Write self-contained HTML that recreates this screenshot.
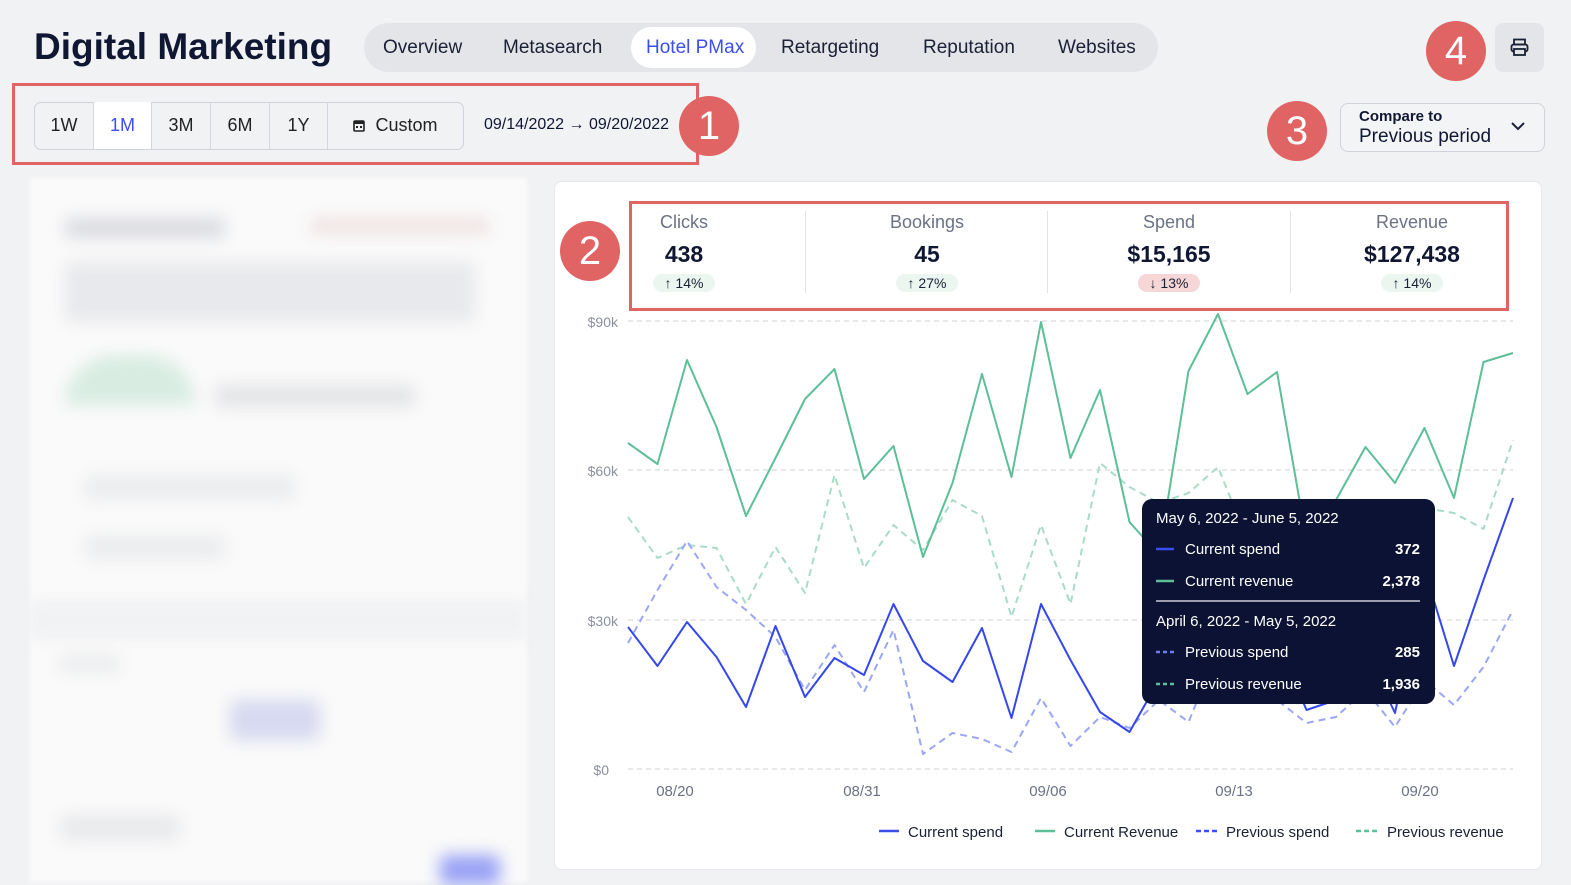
<!DOCTYPE html>
<html><head><meta charset="utf-8"><style>
*{box-sizing:border-box;margin:0;padding:0}
body{width:1571px;height:882px;background:#f1f2f4;font-family:"Liberation Sans",sans-serif;position:relative;overflow:hidden;color:#0f1733}
.abs{position:absolute}
.badge{position:absolute;width:60px;height:60px;border-radius:50%;background:#e06464;color:#fff;font-size:40px;text-align:center;line-height:60px}
.tab{position:absolute;top:33px;font-size:19px;color:#1a2035}
.seg{position:absolute;top:102px;height:47px;border-right:1px solid #d4d7dd;font-size:18px;text-align:center;line-height:47px;color:#222}
.kpi{position:absolute;top:212px;text-align:center}
.kpi .l{font-size:18px;color:#6b7286}
.kpi .v{font-size:23px;font-weight:bold;margin-top:8px;color:#0f1733}
.kpi .c{display:inline-block;margin-top:6px;font-size:14px;padding:1px 12px;border-radius:9px;background:#ebf6f1;color:#1a2035}
.blur{position:absolute;background:#d9dbe0;filter:blur(8px);border-radius:6px}
</style></head><body>
<div class="abs" style="left:34px;top:26px;font-size:37px;font-weight:bold;color:#0f1733">Digital Marketing</div>
<div class="abs" style="left:364px;top:23px;width:794px;height:49px;background:#e4e5e9;border-radius:25px"></div>
<div class="abs" style="left:631px;top:27px;width:125px;height:41px;background:#fff;border-radius:21px"></div>
<div class="tab" style="left:383px;top:37px">Overview</div>
<div class="tab" style="left:503px;top:37px">Metasearch</div>
<div class="tab" style="left:646px;top:37px;color:#3b4ef0">Hotel PMax</div>
<div class="tab" style="left:781px;top:37px">Retargeting</div>
<div class="tab" style="left:923px;top:37px">Reputation</div>
<div class="tab" style="left:1058px;top:37px">Websites</div>

<div class="abs" style="left:12px;top:83px;width:687px;height:82px;border:3px solid #e06464"></div>
<div class="abs" style="left:34px;top:102px;width:430px;height:48px;border:1px solid #cfd2d8;border-radius:7px;background:#f1f2f4"></div>
<div class="seg" style="left:35px;width:59px">1W</div>
<div class="seg" style="left:94px;width:58px;background:#fff;color:#3b4ef0">1M</div>
<div class="seg" style="left:152px;width:59px">3M</div>
<div class="seg" style="left:211px;width:59px">6M</div>
<div class="seg" style="left:270px;width:58px">1Y</div>
<div class="seg" style="left:328px;width:135px;border:none"><svg width="12" height="13" style="vertical-align:-1px;margin-right:10px"><rect x="1" y="2" width="10" height="10" rx="1" fill="none" stroke="#222" stroke-width="1.6"/><rect x="1" y="2" width="10" height="3" fill="#222"/><rect x="3" y="7" width="2" height="2" fill="#222"/><rect x="7" y="7" width="2" height="2" fill="#222"/></svg>Custom</div>
<div class="abs" style="left:484px;top:116px;font-size:16px">09/14/2022 → 09/20/2022</div>
<div class="badge" style="left:679px;top:96px">1</div>

<div class="badge" style="left:1426px;top:21px">4</div>
<div class="abs" style="left:1495px;top:23px;width:49px;height:49px;background:#e4e5e9;border-radius:8px"></div>
<svg class="abs" style="left:1510px;top:38px" width="19" height="19"><rect x="4" y="1.5" width="11" height="5" fill="none" stroke="#1a2035" stroke-width="1.8"/><rect x="1.5" y="6.5" width="16" height="7" rx="2" fill="none" stroke="#1a2035" stroke-width="1.8"/><rect x="4" y="11" width="11" height="6" fill="#e4e5e9" stroke="#1a2035" stroke-width="1.8"/></svg>
<div class="badge" style="left:1267px;top:101px">3</div>
<div class="abs" style="left:1340px;top:103px;width:205px;height:49px;border:1px solid #cfd2d8;border-radius:8px;background:#f3f4f6"></div>
<div class="abs" style="left:1359px;top:108px;font-size:15px;font-weight:bold">Compare to</div>
<div class="abs" style="left:1359px;top:126px;font-size:19px">Previous period</div>
<svg class="abs" style="left:1511px;top:122px" width="14" height="9"><polyline points="1,1 7,7 13,1" fill="none" stroke="#1a2035" stroke-width="2"/></svg>

<!-- blurred left panel -->
<div class="abs" style="left:30px;top:178px;width:497px;height:704px;background:#fafafa;filter:blur(2px)"></div>
<div class="abs" style="left:30px;top:600px;width:497px;height:40px;background:#f1f2f4;filter:blur(6px)"></div>
<div class="blur" style="left:65px;top:218px;width:160px;height:20px"></div>
<div class="blur" style="left:310px;top:218px;width:180px;height:16px;background:#f0e2e2"></div>
<div class="blur" style="left:65px;top:262px;width:410px;height:60px;background:#e8e9ec"></div>
<div class="blur" style="left:65px;top:355px;width:130px;height:50px;background:#d8ece2;border-radius:60px 60px 0 0"></div>
<div class="blur" style="left:215px;top:385px;width:200px;height:22px;background:#e3e4e7"></div>
<div class="blur" style="left:85px;top:475px;width:210px;height:25px;background:#ebecee"></div>
<div class="blur" style="left:85px;top:535px;width:140px;height:25px;background:#ebecee"></div>
<div class="blur" style="left:60px;top:655px;width:60px;height:18px;background:#ebecee"></div>
<div class="blur" style="left:230px;top:700px;width:90px;height:40px;background:#d6d9f0"></div>
<div class="blur" style="left:60px;top:815px;width:120px;height:25px;background:#e8e9ec"></div>
<div class="blur" style="left:440px;top:855px;width:60px;height:30px;background:#9aa3f5"></div>

<!-- chart card -->
<div class="abs" style="left:554px;top:181px;width:988px;height:689px;background:#fff;border:1px solid #e6e7ea;border-radius:8px"></div>
<div class="abs" style="left:629px;top:201px;width:880px;height:110px;border:3px solid #e06464"></div>
<div class="abs" style="left:805px;top:211px;width:1px;height:82px;background:#e3e4e7"></div>
<div class="abs" style="left:1047px;top:211px;width:1px;height:82px;background:#e3e4e7"></div>
<div class="abs" style="left:1290px;top:211px;width:1px;height:82px;background:#e3e4e7"></div>
<div class="kpi" style="left:644px;width:80px"><div class="l">Clicks</div><div class="v">438</div><div class="c">↑ 14%</div></div>
<div class="kpi" style="left:867px;width:120px"><div class="l">Bookings</div><div class="v">45</div><div class="c">↑ 27%</div></div>
<div class="kpi" style="left:1099px;width:140px"><div class="l">Spend</div><div class="v">$15,165</div><div class="c" style="background:#f6d6d6">↓ 13%</div></div>
<div class="kpi" style="left:1342px;width:140px"><div class="l">Revenue</div><div class="v">$127,438</div><div class="c">↑ 14%</div></div>
<div class="badge" style="left:560px;top:221px">2</div>

<svg class="abs" style="left:0;top:0" width="1571" height="882">
<g stroke="#cfd1d6" stroke-dasharray="5,4" stroke-width="1">
<line x1="628" y1="321" x2="1513" y2="321"/><line x1="628" y1="470" x2="1513" y2="470"/>
<line x1="628" y1="620" x2="1513" y2="620"/><line x1="628" y1="769" x2="1513" y2="769"/></g>
<g font-size="14" fill="#8a90a0" text-anchor="end" font-family="Liberation Sans">
<text x="618" y="327">$90k</text><text x="618" y="476">$60k</text><text x="618" y="626">$30k</text><text x="609" y="775">$0</text></g>
<g font-size="15" fill="#6b7286" text-anchor="middle" font-family="Liberation Sans">
<text x="675" y="796">08/20</text><text x="862" y="796">08/31</text><text x="1048" y="796">09/06</text><text x="1234" y="796">09/13</text><text x="1420" y="796">09/20</text></g>
<g fill="none" stroke-width="2" stroke-linejoin="round">
<polyline stroke="#a9dcc6" stroke-dasharray="7,5" points="628,517 657.5,558 687,545 716.5,548 746,604 775.5,547 805,593 834.5,475 864,568 893.5,525 923,550 952.5,500 982,516 1011.5,617 1041,525 1070.5,604 1100,463 1129.5,487 1159,503 1188.5,493 1218,467 1247.5,540 1277,530 1306.5,560 1336,545 1365.5,520 1395,540 1424.5,508 1454,513 1483.5,529 1513,440"/>
<polyline stroke="#9ba6f6" stroke-dasharray="7,5" points="628,643 657.5,590 687,541 716.5,587 746,610 775.5,637 805,690 834.5,645 864,692 893.5,630 923,754 952.5,733 982,739 1011.5,752 1041,698 1070.5,746 1100,717 1129.5,728 1159,700 1188.5,722 1218,650 1247.5,680 1277,700 1306.5,723 1336,717 1365.5,690 1395,727 1424.5,680 1454,705 1483.5,667 1513,610"/>
<polyline stroke="#5cbf98" points="628,443 657.5,464 687,360 716.5,427 746,516 775.5,458 805,399 834.5,369 864,479 893.5,446 923,557 952.5,483 982,374 1011.5,477 1041,322 1070.5,458 1100,390 1129.5,522 1159,555 1188.5,371 1218,314 1247.5,394 1277,372 1306.5,540 1336,500 1365.5,447 1395,483 1424.5,428 1454,498 1483.5,362 1513,353"/>
<polyline stroke="#3447ee" points="628,627 657.5,666 687,622 716.5,657 746,707 775.5,626 805,697 834.5,658 864,675 893.5,604 923,661 952.5,682 982,628 1011.5,718 1041,604 1070.5,660 1100,712 1129.5,732 1159,680 1188.5,620 1218,600 1247.5,650 1277,640 1306.5,710 1336,700 1365.5,650 1395,713 1424.5,570 1454,666 1483.5,580 1513,498"/>
</g>
<rect x="1142" y="499" width="293" height="205" rx="10" fill="#0b1234"/>
<g font-family="Liberation Sans" font-size="15" fill="#fff">
<text x="1156" y="523">May 6, 2022 - June 5, 2022</text>
<text x="1185" y="554">Current spend</text><text x="1420" y="554" text-anchor="end" font-weight="bold">372</text>
<text x="1185" y="586">Current revenue</text><text x="1420" y="586" text-anchor="end" font-weight="bold">2,378</text>
<text x="1156" y="626">April 6, 2022 - May 5, 2022</text>
<text x="1185" y="657">Previous spend</text><text x="1420" y="657" text-anchor="end" font-weight="bold">285</text>
<text x="1185" y="689">Previous revenue</text><text x="1420" y="689" text-anchor="end" font-weight="bold">1,936</text></g>
<line x1="1156" y1="601" x2="1420" y2="601" stroke="#c9ccd4" stroke-width="1.5"/>
<g stroke-width="2.5">
<line x1="1156" y1="549" x2="1174" y2="549" stroke="#3b4ef0"/>
<line x1="1156" y1="581" x2="1174" y2="581" stroke="#5cbf98"/>
<line x1="1156" y1="652" x2="1174" y2="652" stroke="#6d7bf2" stroke-dasharray="4,3"/>
<line x1="1156" y1="684" x2="1174" y2="684" stroke="#5cbf98" stroke-dasharray="4,3"/></g>
<g stroke-width="2.5">
<line x1="879" y1="831" x2="899" y2="831" stroke="#3b4ef0"/>
<line x1="1035" y1="831" x2="1055" y2="831" stroke="#5cbf98"/>
<line x1="1196" y1="831" x2="1218" y2="831" stroke="#3b4ef0" stroke-dasharray="5,3"/>
<line x1="1356" y1="831" x2="1378" y2="831" stroke="#5cbf98" stroke-dasharray="5,3"/></g>
<g font-family="Liberation Sans" font-size="15" fill="#1a2035">
<text x="908" y="837">Current spend</text><text x="1064" y="837">Current Revenue</text>
<text x="1226" y="837">Previous spend</text><text x="1387" y="837">Previous revenue</text></g>
</svg>
</body></html>
